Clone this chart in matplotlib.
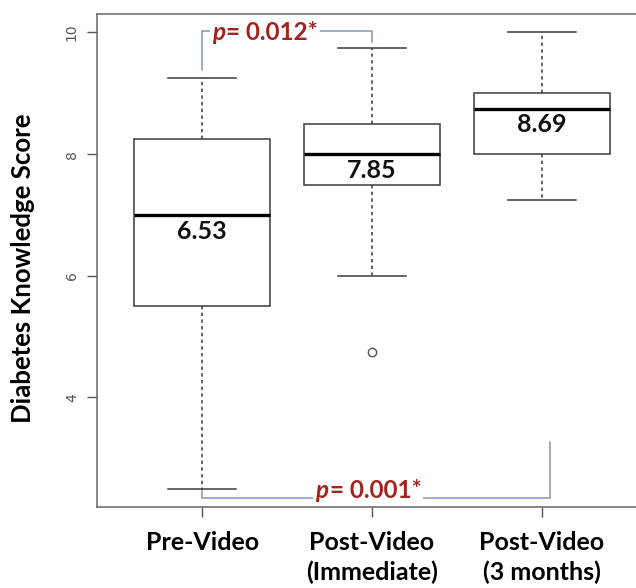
import numpy as np
import matplotlib
matplotlib.use("Agg")
import matplotlib.pyplot as plt

# ---- data ----
groups = ["Pre-Video", "Post-Video\n(Immediate)", "Post-Video\n(3 months)"]
q1 = [5.5, 7.5, 8.0]
medians = [7.0, 8.0, 8.75]
q3 = [8.25, 8.5, 9.0]
whis_lo = [2.5, 6.0, 7.25]
whis_hi = [9.25, 9.75, 10.0]
fliers = [[], [4.75], []]
mean_labels = ["6.53", "7.85", "8.69"]
y_ticks = [4, 6, 8, 10]

p_top = "0.012*"      # pre vs immediate
p_bottom = "0.001*"   # pre vs 3 months

RED = "#A3231F"
BRACKET = "#7D97B8"
EDGE = "#3A3A3A"
FONT = "Lato"

fig = plt.figure(figsize=(6.36, 5.88), dpi=100)
ax = fig.add_axes([0.1525, 0.1378, 0.865, 0.838])

stats = []
for i in range(len(groups)):
    stats.append(dict(q1=q1[i], med=medians[i], q3=q3[i],
                      whislo=whis_lo[i], whishi=whis_hi[i], fliers=fliers[i]))

pos = np.arange(1, len(groups) + 1)
ax.bxp(stats, positions=pos, widths=0.8, showfliers=True, patch_artist=True,
       boxprops=dict(facecolor="white", edgecolor=EDGE, linewidth=1.1),
       medianprops=dict(color="black", linewidth=2.4, solid_capstyle="butt"),
       whiskerprops=dict(color=EDGE, linewidth=1.1, linestyle=(0, (2.2, 2.2))),
       capprops=dict(color=EDGE, linewidth=1.1),
       capwidths=0.4,
       flierprops=dict(marker="o", markersize=6, markerfacecolor="none",
                       markeredgecolor="#555555", markeredgewidth=1.0))

for x, m, lab in zip(pos, medians, mean_labels):
    ax.annotate(lab, (x, m), xytext=(0, -3.5), textcoords="offset points",
                ha="center", va="top", fontsize=18, fontweight="bold",
                family=FONT, color="#111111")

ax.set_xlim(0.38, 3.62)
ax.set_ylim(2.2, 10.3)
ax.set_yticks(y_ticks)
ax.set_yticklabels([str(t) for t in y_ticks], rotation=90, va="center",
                   fontsize=10, color="#555555")
ax.set_xticks(pos)
ax.set_xticklabels(groups, fontsize=18, fontweight="bold", family=FONT,
                   linespacing=1.35)
ax.tick_params(axis="y", length=7, width=1, color="#555555", pad=6)
ax.tick_params(axis="x", length=7, width=1, color="#555555", pad=10)
for s in ax.spines.values():
    s.set_color("#666666")
    s.set_linewidth(1.1)

fig.text(0.036, 0.544, "Diabetes Knowledge Score", rotation=90, ha="center",
         va="center", fontsize=18.5, fontweight="bold", family=FONT)

# ---- significance brackets ----
ax.plot([1, 1, 2, 2], [9.38, 10.02, 10.02, 9.85], color=BRACKET, lw=1.1,
        clip_on=False, zorder=1)
ax.plot([1, 1, 3.05, 3.05], [2.5, 2.34, 2.34, 3.27], color=BRACKET, lw=1.1,
        clip_on=False, zorder=1)


def p_text(x, y, value):
    # italic "p" then "= value", both bold, white backing to break the bracket
    kw = dict(fontsize=17.5, fontweight="bold", family=FONT, color=RED,
              va="center", zorder=4)
    ax.annotate("= " + value, (x, y), xytext=(0, 0),
                textcoords="offset points", ha="left",
                bbox=dict(facecolor="white", edgecolor="none", pad=1.2), **kw)
    ax.annotate("p", (x, y), xytext=(-1, 0), textcoords="offset points",
                ha="right", style="italic",
                bbox=dict(facecolor="white", edgecolor="none", pad=1.2), **kw)


p_text(1.14, 10.0, p_top)
p_text(1.75, 2.47, p_bottom)

fig.savefig("out.png", dpi=100)
